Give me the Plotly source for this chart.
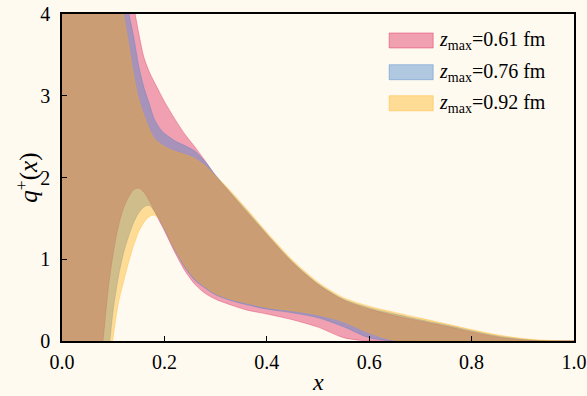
import plotly.graph_objects as go

# ---------------- data ----------------
X = [0.00, 0.03, 0.06, 0.08, 0.09, 0.10, 0.11, 0.12, 0.13, 0.14, 0.15, 0.16, 0.17, 0.18,
     0.19, 0.20, 0.22, 0.24, 0.26, 0.28, 0.30, 0.33, 0.36, 0.40, 0.45, 0.50, 0.55, 0.60,
     0.65, 0.70, 0.75, 0.80, 0.85, 0.90, 0.95, 1.00]

# z_max = 0.61 fm
up_061 = [9.0, 7.9, 6.85, 6.15, 5.8, 5.45, 5.1, 4.75, 4.42, 4.10, 3.76, 3.47, 3.30, 3.17,
          3.05, 2.93, 2.72, 2.53, 2.37, 2.20, 2.02, 1.80, 1.58, 1.30, 0.96, 0.69, 0.50, 0.39,
          0.31, 0.245, 0.18, 0.11, 0.05, 0.012, 0.0, 0.0]
lo_061 = [-4.0, -2.5, -1.0, 0.0, 0.62, 1.07, 1.40, 1.62, 1.76, 1.85, 1.87, 1.82, 1.72, 1.60,
          1.47, 1.35, 1.09, 0.86, 0.69, 0.58, 0.51, 0.44, 0.38, 0.33, 0.26, 0.17, 0.04, 0.0,
          0.0, 0.0, 0.0, 0.0, 0.0, 0.0, 0.0, 0.0]

# z_max = 0.76 fm
up_076 = [8.4, 7.4, 6.4, 5.7, 5.35, 5.0, 4.65, 4.32, 4.02, 3.72, 3.36, 3.10, 2.91, 2.72,
          2.61, 2.54, 2.45, 2.39, 2.32, 2.19, 2.03, 1.81, 1.60, 1.31, 0.97, 0.70, 0.51, 0.405,
          0.33, 0.26, 0.195, 0.125, 0.062, 0.02, 0.0, 0.0]
lo_076 = [-5.0, -3.4, -1.8, -0.7, -0.2, 0.38, 0.78, 1.07, 1.28, 1.45, 1.57, 1.64, 1.66, 1.59,
          1.49, 1.37, 1.12, 0.90, 0.74, 0.645, 0.565, 0.495, 0.445, 0.39, 0.345, 0.285, 0.175, 0.04,
          0.0, 0.0, 0.0, 0.0, 0.0, 0.0, 0.0, 0.0]

# z_max = 0.92 fm
up_092 = [8.1, 7.1, 6.1, 5.4, 5.05, 4.7, 4.35, 4.0, 3.63, 3.25, 2.95, 2.76, 2.60, 2.48,
          2.42, 2.38, 2.32, 2.28, 2.23, 2.14, 2.02, 1.83, 1.62, 1.33, 0.99, 0.72, 0.53, 0.425,
          0.35, 0.28, 0.21, 0.14, 0.075, 0.03, 0.006, 0.0]
lo_092 = [-6.0, -4.3, -2.6, -1.2, -0.45, 0.05, 0.46, 0.72, 0.96, 1.17, 1.34, 1.45, 1.52, 1.54,
          1.49, 1.38, 1.13, 0.92, 0.76, 0.66, 0.58, 0.51, 0.465, 0.41, 0.37, 0.32, 0.235, 0.10,
          0.005, 0.0, 0.0, 0.0, 0.0, 0.0, 0.0, 0.0]

labels = ["0.61", "0.76", "0.92"]
uppers = [up_061, up_076, up_092]
lowers = [lo_061, lo_076, lo_092]

x_ticks = [0.0, 0.2, 0.4, 0.6, 0.8, 1.0]
x_ticktext = ["0.0", "0.2", "0.4", "0.6", "0.8", "1.0"]
y_ticks = [0, 1, 2, 3, 4]
y_ticktext = ["0", "1", "2", "3", "4"]

# ---------------- style ----------------
BG = "#FFFAF0"
ALPHA = 0.4
base_colors = [(218, 25, 80), (58, 125, 200), (255, 175, 15)]
FONT = "Liberation Serif"


def rgba(c, a):
    return f"rgba({c[0]},{c[1]},{c[2]},{a})"


fig = go.Figure()
for lab, up, lo, c in zip(labels, uppers, lowers, base_colors):
    fig.add_trace(go.Scatter(x=X, y=lo, mode="lines",
                             line=dict(color=rgba(c, ALPHA), width=0.8, shape="spline", smoothing=0.8),
                             showlegend=False, hoverinfo="skip"))
    fig.add_trace(go.Scatter(x=X, y=up, mode="lines", fill="tonexty",
                             fillcolor=rgba(c, ALPHA),
                             line=dict(color=rgba(c, ALPHA), width=0.8, shape="spline", smoothing=0.8),
                             name=f"z_max={lab} fm", showlegend=False, hoverinfo="skip"))

# custom legend (patches + text)
leg_y = [0.919, 0.822, 0.727]
for lab, c, yc in zip(labels, base_colors, leg_y):
    fig.add_shape(type="rect", xref="paper", yref="paper",
                  x0=0.639, x1=0.725, y0=yc - 0.023, y1=yc + 0.023,
                  fillcolor=rgba(c, ALPHA), line=dict(color=rgba(c, ALPHA), width=1))
    fig.add_annotation(xref="paper", yref="paper", x=0.733, y=yc,
                       xanchor="left", yanchor="middle", showarrow=False,
                       text=f"<i>z</i><sub>max</sub>={lab} fm",
                       font=dict(family=FONT, size=20, color="black"))

# axis titles as annotations for exact placement
fig.add_annotation(xref="paper", yref="paper", x=0.5, y=-0.124,
                   xanchor="center", yanchor="middle", showarrow=False,
                   text="<i>x</i>", font=dict(family=FONT, size=24, color="black"))
fig.add_annotation(xref="paper", yref="paper", x=-0.068, y=0.5,
                   xanchor="center", yanchor="middle", showarrow=False, textangle=-90,
                   text="<i>q</i><sup>+</sup>(<i>x</i>)", font=dict(family=FONT, size=25, color="black"))

axis_common = dict(showline=True, linecolor="black", linewidth=1.5, mirror=True,
                   ticks="inside", ticklen=5, tickwidth=1, tickcolor="black",
                   showgrid=False, zeroline=False, automargin=False,
                   tickfont=dict(family=FONT, size=20, color="black"))

fig.update_xaxes(range=[0, 1], tickvals=x_ticks, ticktext=x_ticktext,
                 ticklabelstandoff=2, **axis_common)
fig.update_yaxes(range=[0, 4], tickvals=y_ticks, ticktext=y_ticktext,
                 ticklabelstandoff=6, **axis_common)

fig.update_layout(width=587, height=396, margin=dict(l=62, r=13, t=14, b=55),
                  paper_bgcolor=BG, plot_bgcolor=BG, showlegend=False)

fig.write_html("out.html")
